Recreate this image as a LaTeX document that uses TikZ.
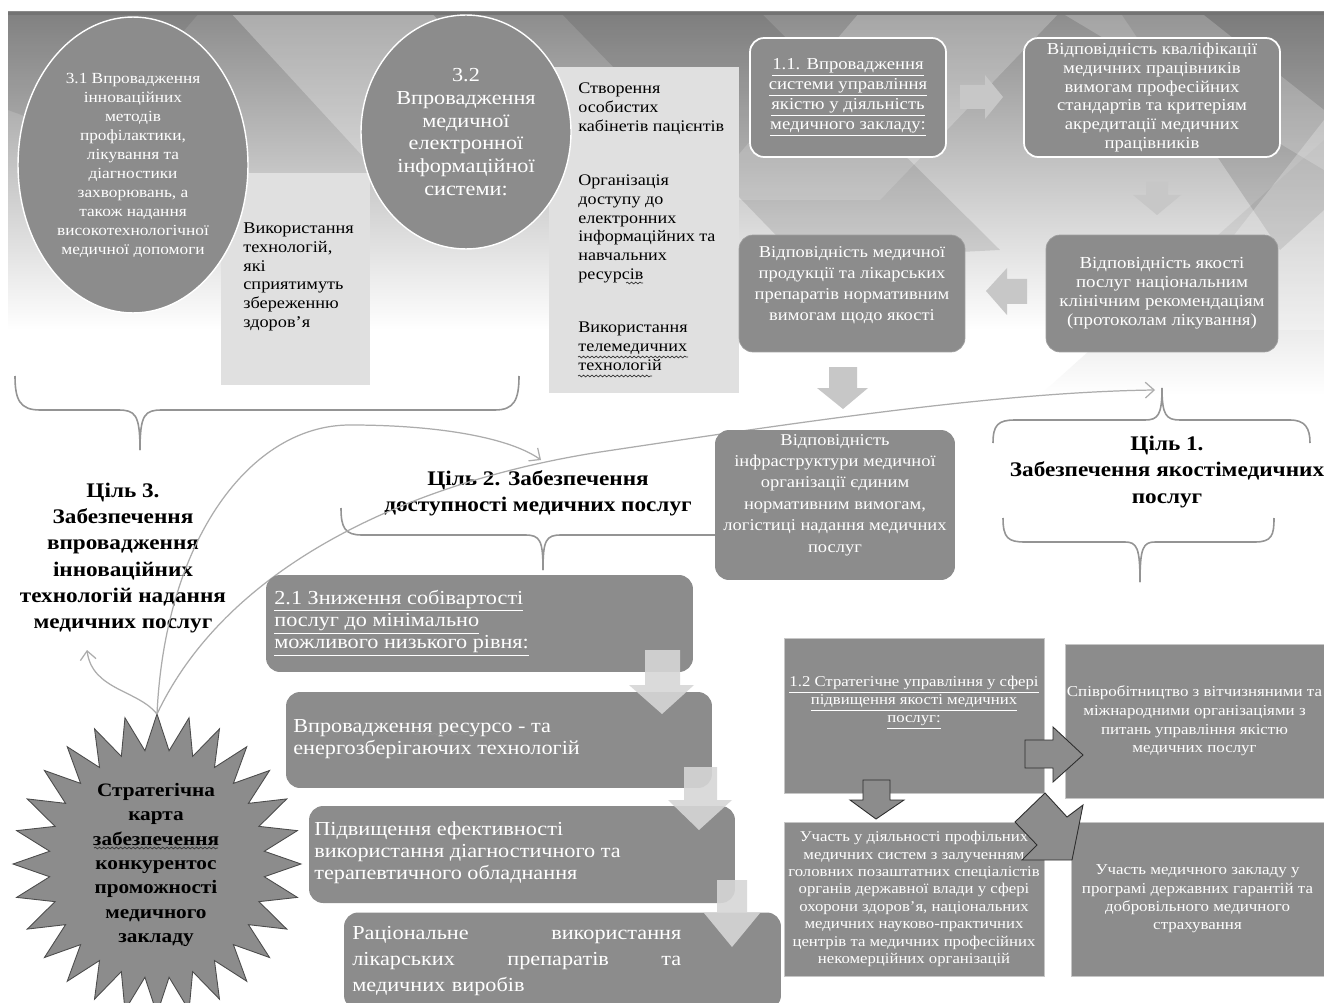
\documentclass[tikz,border=0pt]{standalone}
\usepackage{fontspec}
\setmainfont{Liberation Serif}[FakeStretch=1.12]
\usetikzlibrary{arrows.meta,shapes.geometric,decorations.pathmorphing}
\definecolor{boxgray}{gray}{0.55}
\definecolor{lightbox}{gray}{0.88}
\definecolor{arrlight}{gray}{0.78}
\definecolor{arrlow}{gray}{0.84}
\definecolor{linegray}{gray}{0.58}
\newcommand{\fsz}[2]{\fontsize{#1pt}{#2pt}\selectfont}
\begin{document}
\begin{tikzpicture}[x=0.02cm,y=-0.02cm,
  gbox/.style={fill=boxgray, text=white, align=center, inner sep=0pt},
  rbox/.style={gbox, rounded corners=8pt},
  wbox/.style={rbox, draw=white, line width=1pt},
  sqbox/.style={gbox, draw=gray!45, line width=0.5pt},
  lbox/.style={fill=lightbox, inner sep=0pt},
  txt/.style={align=center, inner sep=0pt},
  ltxt/.style={align=left, inner sep=0pt, anchor=west},
  goal/.style={align=center, inner sep=0pt, font=\bfseries\fsz{11.8}{15}},
  brace/.style={draw=linegray, line width=0.9pt},
  curve/.style={draw=gray!65, line width=0.7pt},
  tip/.style={-{Straight Barb[length=5pt,width=9pt]}},
  larr/.style={fill=arrlight},
  darr/.style={fill=arrlow, opacity=0.9},
  barr/.style={fill=boxgray, draw=gray!35!black, line width=0.5pt},
  wavy/.style={draw=gray!40!black, line width=0.4pt, decorate, decoration={snake, amplitude=0.5pt, segment length=2.4pt}}]
\useasboundingbox (0,0) rectangle (1324,1003);
\fill[white] (0,0) rectangle (1324,1003);
% ---------- background band ----------
\begin{scope}
\clip (8,12) rectangle (1324,420);
\shade[top color=black!45, bottom color=white] (8,12) rectangle (1324,330);
\shade[top color=black!30, bottom color=white] (1324,140) -- (1324,395) -- (1040,395) -- cycle;
\fill[white,opacity=0.28] (230,12) -- (430,12) -- (600,170) -- (380,175) -- cycle;
\fill[white,opacity=0.22] (860,12) -- (1060,12) -- (880,200) -- (700,200) -- cycle;
\fill[black,opacity=0.10] (560,12) -- (760,12) -- (1000,250) -- (800,260) -- cycle;
\fill[black,opacity=0.12] (1120,12) -- (1324,12) -- (1324,210) -- (1280,250) -- cycle;
\fill[white,opacity=0.25] (1324,120) -- (1160,330) -- (1324,330) -- cycle;
\fill[black,opacity=0.08] (8,12) -- (200,12) -- (90,140) -- (8,110) -- cycle;
\fill[white,opacity=0.2] (1060,12) -- (1200,12) -- (1324,110) -- (1324,170) -- cycle;
\fill[black!55] (8,12) rectangle (1324,15);
\end{scope}
% ---------- light rectangles ----------
\node[lbox, minimum width=2.98cm, minimum height=4.24cm] (r1) at (295.5,279) {};
\node[lbox, minimum width=3.8cm, minimum height=6.52cm] (r2) at (644,230) {};
\node[ltxt, anchor=north west, font=\fsz{9.3}{10.8}] (r1t) at (243,222) {Використання\\технологій,\\які\\сприятимуть\\збереженню\\здоров’я};
\node[ltxt, anchor=north west, font=\fsz{9.2}{10.8}] (r2a) at (578,82) {Створення\\особистих\\кабінетів пацієнтів};
\node[ltxt, anchor=north west, font=\fsz{9.2}{10.8}] (r2b) at (578,174) {Організація\\доступу до\\електронних\\інформаційних та\\навчальних\\ресурсів};
\node[ltxt, anchor=north west, font=\fsz{9.2}{10.8}] (r2c) at (578,322) {Використання\\телемедичних\\технологій};
\draw[wavy] (626,283) -- (643,283);
\draw[wavy] (578,357) -- (688,357);
\draw[wavy] (578,376) -- (652,376);
% ---------- ellipses ----------
\node[ellipse, gbox, draw=white, line width=0.8pt, minimum width=4.6cm, minimum height=5.92cm, font=\fsz{8.8}{10.8}] (e31) at (133,165) {3.1 Впровадження\\інноваційних\\методів\\профілактики,\\лікування та\\діагностики\\захворювань, а\\також надання\\високотехнологічної\\медичної допомоги};
\node[ellipse, gbox, draw=white, line width=0.8pt, minimum width=4.2cm, minimum height=4.68cm, font=\fsz{11.3}{12.9}] (e32) at (466,132) {3.2\\Впровадження\\медичної\\електронної\\інформаційної\\системи:};
% ---------- top right boxes ----------
\node[wbox, minimum width=3.92cm, minimum height=2.38cm, font=\fsz{9.5}{11.3}] (b11) at (848,97.5) {\underline{1.1. Впровадження}\\\underline{системи управління}\\\underline{якістю у діяльність}\\\underline{медичного закладу:}};
\node[wbox, minimum width=5.12cm, minimum height=2.38cm, font=\fsz{9.5}{10.8}] (b12) at (1152,97.5) {Відповідність кваліфікації\\медичних працівників\\вимогам професійних\\стандартів та критеріям\\акредитації медичних\\працівників};
\node[rbox, draw=gray!75, line width=0.4pt, minimum width=4.64cm, minimum height=2.34cm, font=\fsz{9.6}{10.9}] (b13) at (1162,293.5) {Відповідність якості\\послуг національним\\клінічним рекомендаціям\\(протоколам лікування)};
\node[rbox, draw=gray!75, line width=0.4pt, minimum width=4.52cm, minimum height=2.34cm] (b14) at (852,293.5) {};
\node[txt, text=white, font=\fsz{9.4}{12}] (b14t) at (852,285) {Відповідність медичної\\продукції та лікарських\\препаратів нормативним\\вимогам щодо якості};
% top arrows
\fill[larr] (960,85) -- (985,85) -- (985,75) -- (1003,97) -- (985,119) -- (985,109) -- (960,109) -- cycle;
\fill[larr] (1146,182) -- (1168,182) -- (1168,195) -- (1181,195) -- (1157,215) -- (1133,195) -- (1146,195) -- cycle;
\fill[larr] (1027,279) -- (1007,279) -- (1007,268) -- (986,291) -- (1007,315) -- (1007,304) -- (1027,304) -- cycle;
\fill[larr] (829,367) -- (857,367) -- (857,388) -- (868,388) -- (843,409) -- (817,388) -- (829,388) -- cycle;
% ---------- braces ----------
\draw[brace] (15,376) .. controls (15,400) and (20,410) .. (40,410) -- (118,410) .. controls (135,410) and (140,414) .. (140,450);
\draw[brace] (140,450) .. controls (140,414) and (145,410) .. (162,410) -- (495,410) .. controls (514,410) and (519,400) .. (519,376);
\draw[brace] (341,508) .. controls (341,528) and (345,535) .. (362,535) -- (525,535) .. controls (540,535) and (543,540) .. (543,570);
\draw[brace] (543,570) .. controls (543,540) and (546,535) .. (561,535) -- (730,535) .. controls (740,535) and (742,525) .. (742,510);
\draw[brace] (993,443) .. controls (993,425) and (998,420) .. (1015,420) -- (1145,420) .. controls (1158,420) and (1162,415) .. (1162,388);
\draw[brace] (1162,388) .. controls (1162,415) and (1166,420) .. (1180,420) -- (1290,420) .. controls (1305,420) and (1310,428) .. (1310,443);
\draw[brace] (1003,518) .. controls (1003,538) and (1008,542) .. (1025,542) -- (1125,542) .. controls (1137,542) and (1140,548) .. (1140,582);
\draw[brace] (1140,582) .. controls (1140,548) and (1143,542) .. (1155,542) -- (1255,542) .. controls (1272,542) and (1274,535) .. (1274,518);
% ---------- goal texts ----------
\node[goal] (g3) at (123,558) {Ціль 3.\\Забезпечення\\впровадження\\інноваційних\\технологій надання\\медичних послуг};
\node[goal] (g2) at (538,493) {Ціль 2. Забезпечення\\доступності медичних послуг};
\node[goal] (g1) at (1167,472) {Ціль 1.\\Забезпечення якостімедичних\\послуг};
% ---------- star ----------
\filldraw[fill=boxgray, draw=gray!60!black, line width=0.5pt] plot[samples at={0,1,...,55}] ({157+ifthenelse(mod(\x,2)==0,144,108)*cos(90+\x*6.428571)}, {864+ifthenelse(mod(\x,2)==0,150,114)*sin(90+\x*6.428571)}) -- cycle;
\node[txt, font=\bfseries\fsz{10.8}{13.9}] (strat) at (156,865) {Стратегічна\\карта\\забезпечення\\конкурентос\\проможності\\медичного\\закладу};
\draw[wavy] (94,848) -- (218,848);
\coordinate (st) at (157,714);
\coordinate (g3p) at (87,650);
\coordinate (g2p) at (541,460);
\coordinate (g1p) at (1155,390);
% ---------- curves ----------
\draw[curve, tip] (st) .. controls (138,690) and (92,690) .. (g3p);
\draw[curve, tip] (st) .. controls (165,540) and (250,425) .. (350,425) .. controls (440,425) and (510,438) .. (g2p);
\draw[curve, tip] (st) .. controls (230,560) and (420,480) .. (600,452) .. controls (800,422) and (1000,392) .. (g1p);
% ---------- box infrastructure ----------
\node[rbox, minimum width=4.8cm, minimum height=3.0cm] (b15) at (835,505) {};
\node[txt, text=white, font=\fsz{9.4}{12.2}] (b15t) at (835,495) {Відповідність\\інфраструктури медичної\\організації єдиним\\нормативним вимогам,\\логістиці надання медичних\\послуг};
% ---------- goal 2 chain ----------
\node[rbox, minimum width=8.54cm, minimum height=1.94cm] (b21) at (479.5,623.5) {};
\node[ltxt, text=white, font=\fsz{11.3}{12.6}] (b21t) at (274,623) {\underline{2.1 Зниження собівартості}\\\underline{послуг до мінімально}\\\underline{можливого низького рівня:}};
\node[rbox, minimum width=8.52cm, minimum height=1.92cm] (b22) at (499,740) {};
\node[ltxt, text=white, font=\fsz{11.3}{12.6}] (b22t) at (293,739) {Впровадження ресурсо - та\\енергозберігаючих технологій};
\draw[wavy, draw=gray!85] (412,734) -- (482,734);
\node[rbox, minimum width=8.52cm, minimum height=1.94cm] (b23) at (522,854.5) {};
\node[ltxt, text=white, font=\fsz{11.3}{12.6}] (b23t) at (314,853) {Підвищення ефективності\\використання діагностичного та\\терапевтичного обладнання};
\node[rbox, minimum width=8.74cm, minimum height=1.94cm] (b24) at (562.5,961) {};
\node[ltxt, text=white, text width=6.58cm, font=\fsz{11.3}{15}] (b24t) at (352,961) {Раціональне \hfill використання\\лікарських \hfill препаратів \hfill та\\медичних виробів};
\fill[darr] (645,650) -- (680,650) -- (680,685) -- (694,685) -- (662,714) -- (629,685) -- (645,685) -- cycle;
\fill[darr] (684,767) -- (717,767) -- (717,800) -- (732,800) -- (699,830) -- (668,800) -- (684,800) -- cycle;
\fill[darr] (717,880) -- (747,880) -- (747,913) -- (760,913) -- (732,947) -- (704,913) -- (717,913) -- cycle;
% ---------- goal 1 strategic block ----------
\node[sqbox, minimum width=5.2cm, minimum height=3.1cm] (b1s) at (914,715.5) {};
\node[txt, text=white, font=\fsz{8.5}{10.3}] (b1st) at (914,703) {\underline{1.2 Стратегічне управління у сфері}\\\underline{підвищення якості медичних}\\\underline{послуг:}};
\node[sqbox, minimum width=5.18cm, minimum height=3.08cm, font=\fsz{8.6}{10.6}] (bco) at (1194.5,721) {Співробітництво з вітчизняними та\\міжнародними організаціями з\\питань управління якістю\\медичних послуг};
\node[sqbox, minimum width=5.2cm, minimum height=3.08cm, font=\fsz{8.5}{9.9}] (bpa) at (914,899) {Участь у діяльності профільних\\медичних систем з залученням\\головних позаштатних спеціалістів\\органів державної влади у сфері\\охорони здоров’я, національних\\медичних науково-практичних\\центрів та медичних професійних\\некомерційних організацій};
\node[sqbox, minimum width=5.06cm, minimum height=3.08cm, font=\fsz{8.6}{10.5}] (bst) at (1197.5,899) {Участь медичного закладу у\\програмі державних гарантій та\\добровільного медичного\\страхування};
\filldraw[barr] (1025,740) -- (1053,740) -- (1053,727) -- (1083,755) -- (1053,782) -- (1053,768) -- (1025,768) -- cycle;
\filldraw[barr] (863,780) -- (890,780) -- (890,800) -- (904,800) -- (876,819) -- (850,800) -- (863,800) -- cycle;
\filldraw[barr] (1045,793) -- (1067,817) -- (1083,805) -- (1072,860) -- (1022,860) -- (1037,845) -- (1015,822) -- cycle;
\end{tikzpicture}
\end{document}
